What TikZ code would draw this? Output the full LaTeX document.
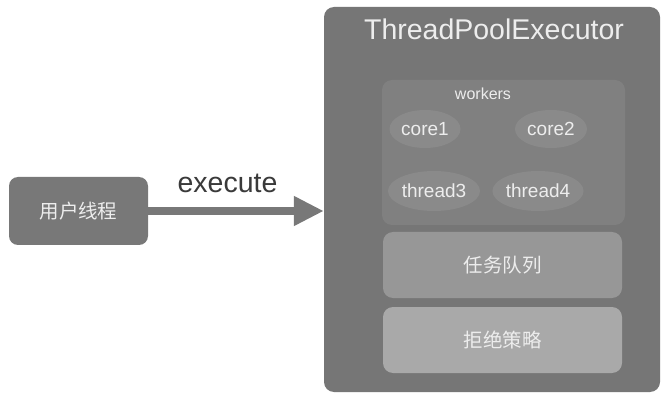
\documentclass[tikz,border=0pt]{standalone}
\usepackage{fontspec}
\setmainfont{Liberation Sans}
\newfontfamily\cjk{Noto Sans CJK SC}
\usetikzlibrary{arrows.meta,shapes.geometric}
\definecolor{poolgray}{HTML}{767676}
\definecolor{workgray}{HTML}{808080}
\definecolor{threadgray}{HTML}{8A8A8A}
\definecolor{queuegray}{HTML}{979797}
\definecolor{rejectgray}{HTML}{A9A9A9}
\definecolor{usergray}{HTML}{787878}
\definecolor{labelwhite}{HTML}{EDEDED}
\definecolor{darktext}{HTML}{3A3A3A}
\tikzset{
  panel/.style={rounded corners=10pt, inner sep=0pt, draw=none},
  worker/.style={ellipse, inner sep=0pt, fill=threadgray, text=labelwhite,
    font=\fontsize{19}{19}\selectfont},
  cnlabel/.style={text=labelwhite, font=\cjk\fontsize{19.5}{20}\selectfont},
}
\begin{document}
\begin{tikzpicture}[x=1pt,y=-1pt]
  \useasboundingbox (0,0) rectangle (662,393);
  \fill[white] (0,0) rectangle (662,393);

  % thread pool container
  \node[panel, fill=poolgray, minimum width=336pt, minimum height=385pt] (pool) at (492,199.5) {};
  \node[anchor=base, text=labelwhite, font=\fontsize{28.5}{29}\selectfont] (title) at (494,40) {ThreadPoolExecutor};

  % worker set
  \node[panel, fill=workgray, minimum width=243pt, minimum height=145pt] (workers) at (503.5,152.5) {};
  \node[anchor=base, text=labelwhite, font=\fontsize{16}{16}\selectfont] (wlabel) at (483,100) {workers};
  \node[worker, minimum width=71pt, minimum height=38pt] (core1) at (425,129) {core1};
  \node[worker, minimum width=72pt, minimum height=38pt] (core2) at (551,129) {core2};
  \node[worker, minimum width=92pt, minimum height=40pt] (thread3) at (434,191) {thread3};
  \node[worker, minimum width=90pt, minimum height=40pt] (thread4) at (538,191) {thread4};

  % queue and rejection handler
  \node[panel, fill=queuegray, minimum width=239pt, minimum height=66pt, cnlabel] (queue) at (502.5,265) {任务队列};
  \node[panel, fill=rejectgray, minimum width=239pt, minimum height=66pt, cnlabel] (reject) at (502.5,340) {拒绝策略};

  % caller
  \node[panel, rounded corners=9pt, fill=usergray, minimum width=139pt, minimum height=68pt, cnlabel] (user) at (78.5,211) {用户线程};

  % execute call
  \draw[draw=usergray, line width=8pt, -{Triangle[width=28pt,length=30pt]}]
    (user.east) -- (user.east -| pool.west);
  \node[anchor=base, text=darktext, font=\fontsize{28.5}{29}\selectfont] (exec) at (227.5,193) {execute};
\end{tikzpicture}
\end{document}
